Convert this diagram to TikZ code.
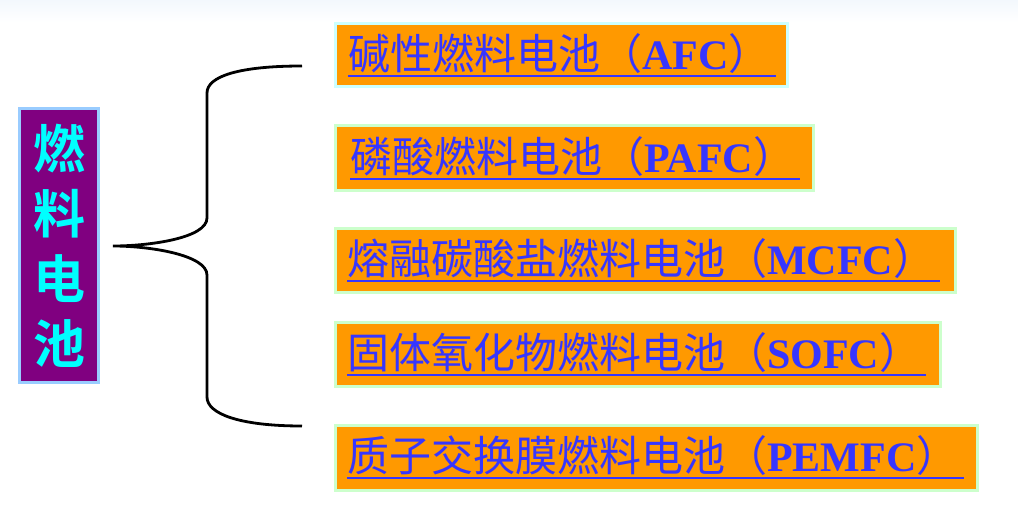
\documentclass[tikz,border=0pt]{standalone}
\usepackage{fontspec}
\newfontfamily\cjk{Noto Sans CJK SC}[BoldFont={Noto Sans CJK SC Bold}]
\newfontfamily\latserif{Liberation Serif}
\definecolor{boxorange}{HTML}{FF9900}
\definecolor{txtblue}{HTML}{3636FF}
\definecolor{cyanborder}{HTML}{CCFFFF}
\definecolor{greenborder}{HTML}{CCFFCC}
\definecolor{rootfill}{HTML}{800080}
\definecolor{rootborder}{HTML}{99CCFF}
\definecolor{roottext}{HTML}{00FFFF}
\definecolor{topblue}{HTML}{F3F8FD}
\begin{document}
\begin{tikzpicture}[x=1pt,y=-1pt,
  itembox/.style={draw=#1, line width=3pt, fill=boxorange, rectangle, inner sep=0pt},
  itemtext/.style={anchor=base west, inner sep=0pt, text=txtblue, font=\cjk\fontsize{42}{50}\selectfont},
  uline/.style={draw=txtblue, line width=2.6pt},
  rootbox/.style={draw=rootborder, line width=3pt, fill=rootfill, text=roottext, align=center,
     minimum width=79pt, minimum height=274pt, inner sep=0pt,
     font=\cjk\bfseries\fontsize{52}{65}\selectfont},
  bracestyle/.style={draw=black, line width=2.8pt}
]
\useasboundingbox (0,0) rectangle (1018,522);
\shade[top color=topblue, bottom color=white] (0,0) rectangle (1018,22);

% root
\node[rootbox] (root) at (59,245.5) {燃\\料\\电\\池};

% brace
\coordinate (btop) at (302,66);
\coordinate (bmid) at (113,246);
\coordinate (bbot) at (302,426);
\draw[bracestyle] (btop) .. controls (240,66) and (207,76) .. (207,93) -- (207,218)
  .. controls (207,238) and (150,246) .. (bmid)
  .. controls (150,246) and (207,255) .. (207,275) -- (207,397)
  .. controls (207,414) and (240,426) .. (bbot);

% boxes
\node[itembox=cyanborder, minimum width=452pt, minimum height=63pt] (b1) at (561.5,55) {};
\node[itembox=greenborder, minimum width=478pt, minimum height=65pt] (b2) at (574.5,158) {};
\node[itembox=greenborder, minimum width=620pt, minimum height=64pt] (b3) at (645.5,260.5) {};
\node[itembox=greenborder, minimum width=605pt, minimum height=64pt] (b4) at (638,354.5) {};
\node[itembox=greenborder, minimum width=642pt, minimum height=65pt] (b5) at (656.5,458) {};

% texts
\node[itemtext] (t1) at (348,69) {碱性燃料电池（{\latserif\bfseries AFC}）};
\node[itemtext] (t2) at (350,172) {磷酸燃料电池（{\latserif\bfseries PAFC}）};
\node[itemtext] (t3) at (347,274) {熔融碳酸盐燃料电池（{\latserif\bfseries MCFC}）};
\node[itemtext] (t4) at (347,368) {固体氧化物燃料电池（{\latserif\bfseries SOFC}）};
\node[itemtext] (t5) at (347,471) {质子交换膜燃料电池（{\latserif\bfseries PEMFC}）};

% underlines
\foreach \t in {t1,t2,t3,t4,t5}{
  \draw[uline] ([yshift=-7pt]\t.base west) -- ([xshift=5pt,yshift=-7pt]\t.base east);
}
\end{tikzpicture}
\end{document}
